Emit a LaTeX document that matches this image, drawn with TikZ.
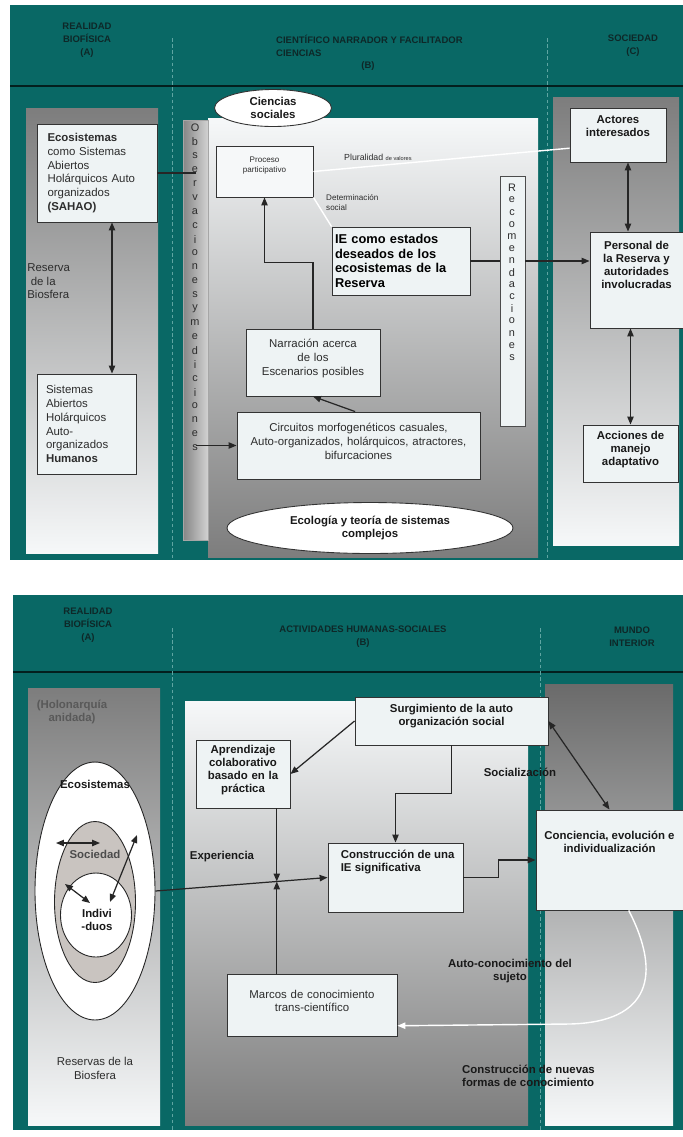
\documentclass[tikz,border=0pt]{standalone}
\usepackage{fontspec}
\setmainfont{Liberation Sans}
\usepackage{tikz}
\usetikzlibrary{arrows.meta,shapes.geometric,positioning,calc,fit}

\definecolor{tealbg}{RGB}{9,104,101}
\definecolor{headcol}{RGB}{14,40,40}
\definecolor{sepcol}{RGB}{95,165,162}
\definecolor{boxfill}{RGB}{238,243,244}
\definecolor{panelgray}{RGB}{125,125,125}
\definecolor{panelwhite}{RGB}{246,248,249}
\definecolor{socfill}{RGB}{201,196,192}
\definecolor{txtcol}{RGB}{45,45,45}

\tikzset{
  box/.style={draw=black!80, line width=0.5pt, fill=boxfill, inner sep=0pt},
  txt/.style={font=\fontsize{6.5}{7.9}\selectfont, text=txtcol},
  btxt/.style={font=\fontsize{6.5}{7.4}\selectfont\bfseries, text=black!90},
  tinytxt/.style={font=\fontsize{4.6}{5.6}\selectfont, text=txtcol},
  headtxt/.style={font=\fontsize{5.4}{7.4}\selectfont\bfseries, text=headcol, align=center},
  vlet/.style={font=\fontsize{6.2}{7}\selectfont, text=txtcol, inner sep=0pt},
  conn/.style={draw=black!85, line width=0.7pt},
  arr/.style={conn, -{Triangle[length=4.5pt,width=3.6pt]}},
  dblarr/.style={conn, {Triangle[length=4.5pt,width=3.6pt]}-{Triangle[length=4.5pt,width=3.6pt]}},
  whitearr/.style={draw=white, line width=0.8pt, -{Triangle[length=4.5pt,width=3.6pt]}},
  sepline/.style={draw=sepcol, line width=0.5pt, dash pattern=on 2pt off 1.5pt},
  oval/.style={ellipse, draw=black!80, line width=0.5pt, fill=white, inner sep=0pt},
}

\begin{document}
\begin{tikzpicture}[x=0.02cm, y=-0.02cm]
  \useasboundingbox (0,0) rectangle (683,1137);
  \fill[white] (0,0) rectangle (683,1137);

  % ===== upper chart =====
  \fill[tealbg] (10,5) rectangle (683,560);
  \draw[black!70!tealbg, line width=0.6pt] (10,86) -- (683,86);
  \draw[sepline] (172,38) -- (172,560);
  \draw[sepline] (547,38) -- (547,560);
  % column headers
  \node[headtxt] (hA) at (87,40) {REALIDAD\\BIOFÍSICA\\(A)};
  \node[headtxt, align=left, anchor=west] (hB) at (270,46) {CIENTÍFICO NARRADOR Y FACILITADOR\\CIENCIAS};
  \node[headtxt] (hBl) at (368,66) {(B)};
  \node[headtxt] (hC) at (633,46) {SOCIEDAD\\(C)};
  % column panels
  \shade[top color=panelgray, middle color=gray!35, bottom color=panelwhite] (26,108) rectangle (158,553);
  \shade[top color=panelwhite, middle color=gray!25, bottom color=panelgray] (208,118) rectangle (538,557);
  \shade[top color=panelgray, middle color=gray!35, bottom color=panelwhite] (553,97) rectangle (679,545);

  % column A
  \node[box, fit={(37,124) (157,222)},
        label={[txt, text width=1.98cm, align=left]center:{\textbf{Ecosistemas}\\como Sistemas\\Abiertos\\Holárquicos Auto\\organizados\\\textbf{(SAHAO)}}}] (eco) {};
  \node[box, fit={(37,374) (136,474)},
        label={[txt, text width=1.62cm, align=left]center:{Sistemas\\Abiertos\\Holárquicos\\Auto-\\organizados\\\textbf{Humanos}}}] (sis) {};
  \node[txt, align=left, anchor=north west, inner sep=0pt] (resA) at (27,263) {Reserva\\\hspace{2pt}de la\\Biosfera};

  % vertical bars
  \node[fit={(183,120) (208,540)}, inner sep=0pt, draw=gray!70, left color=gray!95, right color=gray!35] (obs) {};
  \foreach \l [count=\i from 0] in {O,b,s,e,r,v,a,c,i,o,n,e,s,y,m,e,d,i,c,i,o,n,e,s}
    \node[vlet] (obs\i) at (195,{128+13.9*\i}) {\l};
  \node[fit={(500,176) (525,426)}, inner sep=0pt, draw=black!70, fill=boxfill] (rec) {};
  \foreach \l [count=\i from 0] in {R,e,c,o,m,e,n,d,a,c,i,o,n,e,s}
    \node[vlet] (rec\i) at (512,{188+12.1*\i}) {\l};

  % column B
  \node[oval, minimum width=2.34cm, minimum height=0.74cm, btxt, align=center] (csoc) at (273,108) {Ciencias\\sociales};
  \node[oval, minimum width=5.72cm, minimum height=1.02cm, btxt, align=center] (ecol) at (370,528) {Ecología y teoría de sistemas\\complejos};
  \node[box, fit={(216,146) (313,197)}, fill=panelwhite,
        label={[anchor=north, tinytxt, align=center, yshift=-3pt]north:{Proceso\\participativo}}] (pros) {};
  \node[tinytxt, anchor=west] (plur) at (338,157) {\fontsize{5}{6}\selectfont Pluralidad \fontsize{3.2}{4}\selectfont de valores};
  \node[tinytxt, align=left, anchor=north west] (detsoc) at (320,188) {Determinación\\social};
  \node[box, fit={(332,227) (470,295)},
        label={[font=\fontsize{7.3}{8.3}\selectfont\bfseries, text width=2.64cm, align=left]center:{IE como estados\\deseados de los\\ecosistemas de la\\Reserva}}] (ie) {};
  \node[box, fit={(246,329) (380,396)}, txt, align=center] (nar) {Narración acerca\\de los\\Escenarios posibles};
  \node[box, fit={(237,412) (480,479)}, txt, align=center] (circ)
    {Circuitos morfogenéticos casuales,\\Auto-organizados, holárquicos, atractores,\\bifurcaciones};

  % column C
  \node[box, fit={(570,108) (666,162)},
        label={[anchor=north, btxt, align=center, yshift=-1pt]north:{Actores\\interesados}}] (act) {};
  \node[box, fit={(590,232) (683,328)},
        label={[anchor=north, btxt, align=center, yshift=-2pt]north:{Personal de\\la Reserva y\\autoridades\\involucradas}}] (per) {};
  \node[box, fit={(583,425) (678,482)},
        label={[anchor=north, btxt, align=center]north:{Acciones de\\manejo\\adaptativo}}] (acc) {};

  % connectors
  \draw[conn] (eco.east) -- (eco.east -| obs.center);
  \draw[arr] (circ.west -| obs.center) -- (circ.west);
  \coordinate (ecoax) at (112,0);
  \draw[dblarr] (eco.south -| ecoax) -- (sis.north -| ecoax);
  \draw[draw=white, line width=0.8pt] (pros.east) -- ($(act.south west)!0.26!(act.north west)$);
  \draw[draw=white, line width=0.8pt] (pros.south east) -- (ie.north west);
  \draw[arr] (nar.north) -- ++(0,-66) -| (pros.south);
  \draw[arr] ($(circ.north west)!0.486!(circ.north east)$) -- (nar.south);
  \draw[conn] (ie.east) -- (ie.east -| rec.west);
  \draw[arr] (ie.east -| rec.east) -- (ie.east -| per.west);
  \coordinate (actax) at (628,0);
  \draw[dblarr] (act.south -| actax) -- (per.north -| actax);
  \draw[dblarr] (per.south -| acc.north) -- (acc.north);

  % ===== lower chart =====
  \fill[tealbg] (13,595) rectangle (683,1130);
  \draw[black!70!tealbg, line width=0.6pt] (13,672) -- (683,672);
  \draw[sepline] (172,628) -- (172,1130);
  \draw[sepline] (540,628) -- (540,1130);
  \node[headtxt] (hA2) at (88,625) {REALIDAD\\BIOFÍSICA\\(A)};
  \node[headtxt] (hB2) at (363,637) {ACTIVIDADES HUMANAS-SOCIALES\\(B)};
  \node[headtxt] (hC2) at (632,637) {MUNDO\\INTERIOR};
  \shade[top color=panelgray, middle color=gray!35, bottom color=panelwhite] (28,688) rectangle (160,1125);
  \shade[top color=panelwhite, middle color=gray!22, bottom color=panelgray] (185,701) rectangle (528,1125);
  \shade[top color=panelgray!85!black, middle color=gray!30, bottom color=panelwhite] (545,684) rectangle (673,1125);

  % nested holarchy
  \node[btxt, text=black!65, align=center] (holo) at (72,712) {(Holonarquía\\anidada)};
  \node[ellipse, draw=black!85, line width=0.5pt, fill=white, minimum width=2.4cm, minimum height=5.16cm] (ecos) at (95,891) {};
  \node[ellipse, draw=black!85, line width=0.5pt, fill=socfill, minimum width=1.62cm, minimum height=3.22cm] (soc) at (95,902) {};
  \node[ellipse, draw=black!85, line width=0.5pt, fill=white, minimum width=1.42cm, minimum height=1.68cm] (ind) at (96,915) {};
  \node[btxt] (ecoslab) at (95,784) {Ecosistemas};
  \node[btxt, text=black!70] (soclab) at (95,854) {Sociedad};
  \node[btxt, align=center] (indlab) at (97,920) {Indivi\\-duos};
  \coordinate (sa1) at (56,843);  \coordinate (sa2) at (100,843);
  \coordinate (sb1) at (65,884);  \coordinate (sb2) at (90,903);
  \coordinate (sc1) at (137,835); \coordinate (sc2) at (110,902);
  \draw[dblarr] (sa1) -- (sa2);
  \draw[dblarr] (sb1) -- (sb2);
  \draw[dblarr] (sc1) -- (sc2);
  \node[txt, align=center] (resB) at (95,1068) {Reservas de la\\Biosfera};

  % column B boxes
  \node[box, fit={(355,697) (548,745)},
        label={[anchor=north, btxt, align=center, yshift=-1pt]north:{Surgimiento de la auto\\organización social}}] (surg) {};
  \node[box, fit={(196,740) (290,808)}, btxt, align=center] (apr) {Aprendizaje\\colaborativo\\basado en la\\práctica};
  \node[box, fit={(328,843) (463,912)},
        label={[anchor=north west, btxt, align=left, yshift=-1pt, xshift=4pt]north west:{Construcción de una\\IE significativa}}] (cons) {};
  \node[box, fit={(227,974) (397,1036)}, txt, align=center] (marc) {Marcos de conocimiento\\trans-científico};
  \node[box, fit={(536,810) (683,910)},
        label={[anchor=north, btxt, align=center, yshift=-9pt]north:{Conciencia, evolución e\\individualización}}] (conc) {};
  \node[btxt] (expl) at (222,857) {Experiencia};
  \node[btxt] (socl) at (520,772) {Socialización};
  \node[btxt, align=center] (autol) at (510,971) {Auto-conocimiento del\\sujeto};
  \node[btxt, align=left, anchor=north west] (nuevl) at (456,1059) {Construcción de nuevas\\formas de conocimiento};

  % connectors
  \draw[arr] (ecos.east) -- (cons.west);
  \coordinate (xing) at ($(ecos.east)!0.705!(cons.west)$);
  \draw[arr] (apr.south -| xing) -- (xing);
  \draw[arr] (marc.north -| xing) -- (xing);
  \draw[arr] (surg.west) -- (apr.east);
  \draw[arr] (surg.south) -- ++(0,48) -| (cons.north);
  \draw[arr] (cons.east) -- ++(35,0) |- (conc.west);
  \draw[dblarr] (surg.east) -- (conc.north);
  \draw[whitearr] ($(conc.south west)!0.63!(conc.south east)$) .. controls (662,975) and (650,1022) .. (570,1024)
    -- ($(marc.south east)!0.17!(marc.north east)$);
\end{tikzpicture}
\end{document}
